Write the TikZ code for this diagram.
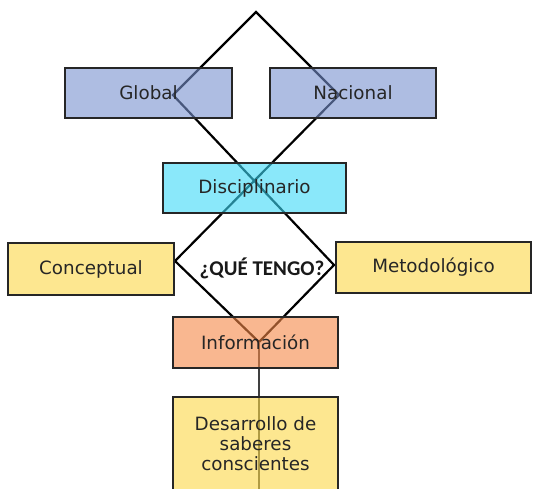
\documentclass[tikz,border=0pt]{standalone}
\usepackage{fontspec}
\setmainfont{DejaVu Sans}
\newfontfamily\calib{Carlito}
\begin{document}
\begin{tikzpicture}[x=1pt,y=-1pt,
  box/.style={draw=black!85,line width=1.8pt,fill opacity=0.6,text opacity=1,
    inner sep=0pt,align=center,font=\fontsize{18.3}{20}\selectfont,text=black!85},
  blu/.style={box,fill={rgb,255:red,120;green,146;blue,208},minimum width=167pt,minimum height=50pt},
  cya/.style={box,fill={rgb,255:red,60;green,218;blue,247}},
  yel/.style={box,fill={rgb,255:red,252;green,216;blue,70}},
  ora/.style={box,fill={rgb,255:red,246;green,136;blue,70}},
  diam/.style={draw=black,line width=2.2pt,line join=miter}]
\useasboundingbox (0,0) rectangle (533,488);
\fill[white] (0,0) rectangle (533,488);
% diamond outline coordinates
\coordinate (apex) at (256,12);
\coordinate (ul) at (173,95);
\coordinate (ur) at (339,95);
\coordinate (ll) at (175,261);
\coordinate (lr) at (334,265);
\coordinate (bot) at (259,342);
\coordinate (end) at (259,492);
\draw[diam] (apex) -- (ul) -- (lr) -- (bot) -- (ll) -- (ur) -- cycle;
\draw[draw=black!75,line width=1.8pt] (bot) -- (end);
% boxes
\node[blu] (global) at (148.5,93) {Global};
\node[blu,minimum width=166pt] (nacional) at (353,93) {Nacional};
\node[cya,minimum width=183pt,minimum height=50pt] (disc) at (254.5,188) {Disciplinario};
\node[yel,minimum width=166pt,minimum height=52pt] (concep) at (91,269) {Conceptual};
\node[yel,minimum width=195pt,minimum height=51pt] (metod) at (433.5,267.5) {Metodológico};
\node[ora,minimum width=165pt,minimum height=51pt] (info) at (255.5,342.5) {Información};
\node[yel,minimum width=165pt,minimum height=93pt] (desa) at (255.5,443.5) {Desarrollo de\\saberes\\conscientes};
\node[font=\calib\bfseries\fontsize{21}{21}\selectfont,text=black!90] (que) at (262,268) {¿QUÉ TENGO?};
\end{tikzpicture}
\end{document}
